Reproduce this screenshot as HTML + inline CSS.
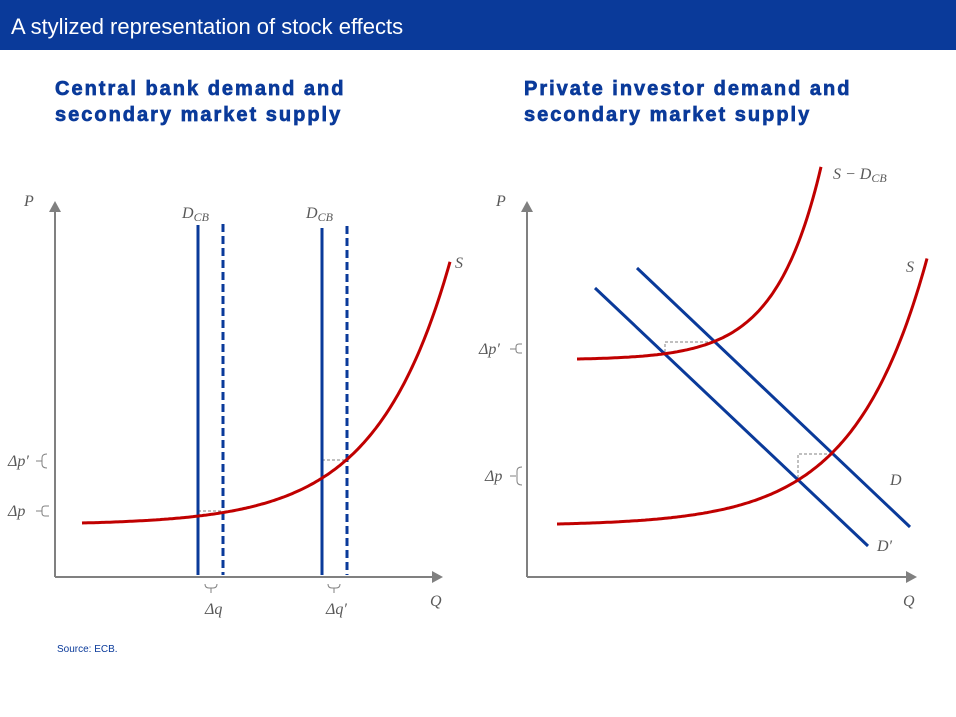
<!DOCTYPE html>
<html><head><meta charset="utf-8"><style>
body{margin:0;width:956px;height:717px;background:#fff;overflow:hidden;font-family:"Liberation Sans",sans-serif}
.bar{position:absolute;left:0;top:0;width:956px;height:50px;background:#0a3a9a}
.bar span{position:absolute;left:11px;top:14px;color:#fff;font-size:22px}
.t{position:absolute;color:#0a3a9a;font-weight:bold;font-size:20px;line-height:26px;letter-spacing:2px;-webkit-text-stroke:0.7px #0a3a9a}
svg{position:absolute;left:0;top:0}
.l{font-family:"Liberation Serif",serif;font-style:italic;fill:#595959;font-size:16px}
</style></head><body>
<div class="bar"><span>A stylized representation of stock effects</span></div>
<div class="t" style="left:55px;top:76px">Central bank demand and<br>secondary market supply</div>
<div class="t" style="left:524px;top:76px">Private investor demand and<br>secondary market supply</div>
<div style="position:absolute;left:57px;top:644px;font-size:10px;color:#0a3a9a">Source: ECB.</div>
<svg width="956" height="717">
<g stroke="#808080" stroke-width="2" fill="none">
<line x1="55" y1="210" x2="55" y2="577"/><line x1="55" y1="577" x2="434" y2="577"/>
<line x1="527" y1="210" x2="527" y2="577"/><line x1="527" y1="577" x2="908" y2="577"/>
</g>
<g fill="#808080">
<polygon points="49,212 61,212 55,201"/><polygon points="432,571 432,583 443,577"/>
<polygon points="521,212 533,212 527,201"/><polygon points="906,571 906,583 917,577"/>
</g>
<g stroke="#808080" stroke-width="1" stroke-dasharray="3,2" fill="none">
<polyline points="198,511 222,511"/><polyline points="322,460 346,460"/>
<polyline points="665,352 665,342 713,342"/><polyline points="798,478 798,454 830,454"/>
</g>
<g stroke="#0a3a9a" stroke-width="3" fill="none">
<line x1="198" y1="225" x2="198" y2="575"/><line x1="322" y1="228" x2="322" y2="575"/>
<line x1="223" y1="224" x2="223" y2="575" stroke-dasharray="8,4"/>
<line x1="347" y1="226" x2="347" y2="575" stroke-dasharray="8,4"/>
<line x1="637" y1="268" x2="910" y2="527"/><line x1="595" y1="288" x2="868" y2="546"/>
</g>
<g stroke="#c00000" stroke-width="3" fill="none">
<path id="s1"/><path id="s2"/><path id="s3"/>
</g>
<g stroke="#808080" stroke-width="1" fill="none">
<path d="M205,584 q0,4 4,4 h2 v5 M211,588 h2 q4,0 4,-4"/>
<path d="M328,584 q0,4 4,4 h2 v5 M334,588 h2 q4,0 4,-4"/>
<path d="M36,461 h6 M47,454 q-5,0 -5,4 v6 q0,4 5,4"/>
<path d="M36,511 h6 M49,506 h-4 q-3,0 -3,3 v4 q0,3 3,3 h4"/>
<path d="M510,349 h6 M522,344 h-3 q-3,0 -3,3 v3 q0,3 3,3 h3"/>
<path d="M510,476 h6 M522,467 q-5,0 -5,4 v10 q0,4 5,4"/>
</g>
<text class="l" x="24" y="206">P</text><text class="l" x="496" y="206">P</text>
<text class="l" x="430" y="606">Q</text><text class="l" x="903" y="606">Q</text>
<text class="l" x="182" y="218" font-size="17">D<tspan font-size="12" dy="3">CB</tspan></text>
<text class="l" x="306" y="218" font-size="17">D<tspan font-size="12" dy="3">CB</tspan></text>
<text class="l" x="455" y="268">S</text><text class="l" x="906" y="272">S</text>
<text class="l" x="833" y="179">S − D<tspan font-size="12" dy="3">CB</tspan></text>
<text class="l" x="890" y="485">D</text><text class="l" x="877" y="551">D′</text>
<text class="l" x="205" y="614">Δq</text><text class="l" x="326" y="614">Δq′</text>
<text class="l" x="8" y="466">Δp′</text><text class="l" x="8" y="516">Δp</text>
<text class="l" x="479" y="354">Δp′</text><text class="l" x="485" y="481">Δp</text>
</svg>
<script>
function mk(id,x0,x1,y0,a,b){var d="";for(var x=x0;x<=x1;x+=2){var y=y0-a*(Math.exp(b*(x-x0))-1);d+=(d?"L":"M")+x+","+y.toFixed(1);}document.getElementById(id).setAttribute("d",d);}
mk("s1",82,450,523,1.83,0.0135);
mk("s2",557,927,524,1.68,0.0137);
mk("s3",577,822,359,0.9,0.022);
</script>
</body></html>
